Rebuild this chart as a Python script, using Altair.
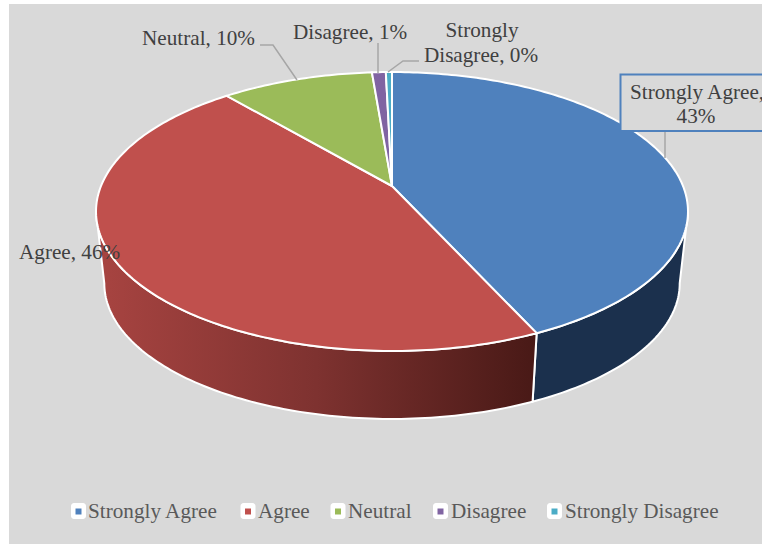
import numpy as np
import pandas as pd
import altair as alt

# Survey responses
categories = ["Strongly Agree", "Agree", "Neutral", "Disagree", "Strongly Disagree"]
shares = [43.2, 45.6, 9.9, 0.9, 0.4]
slice_colors = ["#4F81BD", "#C0504D", "#9BBB59", "#8064A2", "#4BACC6"]
label_lines = [
    ["Strongly Agree,", "43%"],
    ["Agree, 46%"],
    ["Neutral, 10%"],
    ["Disagree, 1%"],
    ["Strongly", "Disagree, 0%"],
]

W, H = 762, 544
PAGE_GRAY = "#D9D9D9"
LABEL_INK = "#404040"
LEGEND_INK = "#595959"
LEADER = "#A6A6A6"
SERIF = "Liberation Serif"
TEXT_SIZE = 21.2

# Perspective of the tilted disc
CX, CY = 392.0, 186.0
A, B, K = 291.0, 134.8, 0.1828
DROP_SCALE, VANISH_Y = 0.972, 2780.0
# Angles where the rim turns from the visible front to the hidden back
RIM_RIGHT, RIM_LEFT = np.radians(100.5), np.radians(259.5)

x_scale = alt.Scale(domain=[0, W], nice=False, zero=False)
y_scale = alt.Scale(domain=[H, 0], nice=False, zero=False)


def top_xy(theta):
    u, v = np.sin(theta), np.cos(theta)
    d = 1 + K * v
    return CX + A * u / d, CY - B * v / d


def bottom_xy(theta):
    x, y = top_xy(theta)
    return CX + (x - CX) * DROP_SCALE, VANISH_Y + (y - VANISH_Y) * DROP_SCALE


def outline(xs, ys):
    return pd.DataFrame({"x": xs, "y": ys, "i": np.arange(len(xs))})


def poly(df, **mark):
    return (
        alt.Chart(df)
        .mark_line(interpolate="linear-closed", **mark)
        .encode(
            x=alt.X("x:Q", scale=x_scale, axis=None),
            y=alt.Y("y:Q", scale=y_scale, axis=None),
            order="i:Q",
        )
    )


def path(points, color=LEADER, width=1.5):
    df = pd.DataFrame(points, columns=["x", "y"])
    df["i"] = range(len(df))
    return (
        alt.Chart(df)
        .mark_line(color=color, strokeWidth=width)
        .encode(
            x=alt.X("x:Q", scale=x_scale, axis=None),
            y=alt.Y("y:Q", scale=y_scale, axis=None),
            order="i:Q",
        )
    )


def text(s, x, y, color=LABEL_INK, size=TEXT_SIZE, align="center"):
    df = pd.DataFrame({"x": [x], "y": [y], "t": [s]})
    return (
        alt.Chart(df)
        .mark_text(font=SERIF, fontSize=size, color=color, align=align, baseline="alphabetic")
        .encode(
            x=alt.X("x:Q", scale=x_scale, axis=None),
            y=alt.Y("y:Q", scale=y_scale, axis=None),
            text="t:N",
        )
    )


def box(x0, y0, x1, y1, **mark):
    df = pd.DataFrame({"x": [x0], "x2": [x1], "y": [y0], "y2": [y1]})
    return (
        alt.Chart(df)
        .mark_rect(**mark)
        .encode(
            x=alt.X("x:Q", scale=x_scale, axis=None),
            x2="x2:Q",
            y=alt.Y("y:Q", scale=y_scale, axis=None),
            y2="y2:Q",
        )
    )


edges = np.cumsum([0] + shares) / sum(shares) * 2 * np.pi
spans = list(zip(edges[:-1], edges[1:]))


def arc(t0, t1):
    return np.linspace(t0, t1, max(3, int(np.degrees(t1 - t0)) + 2))


layers = [box(9, 4, W, H, color=PAGE_GRAY)]

# Side walls: only the front of the two large slices can be seen
wall_fills = [
    "#1B304D",
    alt.LinearGradient(
        gradient="linear",
        x1=0, x2=1, y1=0, y2=0,
        stops=[
            alt.GradientStop(color="#A84441", offset=0),
            alt.GradientStop(color="#7E3230", offset=0.5),
            alt.GradientStop(color="#481916", offset=1),
        ],
    ),
]
wall_spans = [
    (RIM_RIGHT, spans[0][1]),
    (spans[1][0], RIM_LEFT),
]
for (t0, t1), fill in zip(wall_spans, wall_fills):
    th = arc(t0, t1)
    xa, ya = top_xy(th)
    xb, yb = bottom_xy(th[::-1])
    layers.append(
        poly(outline(np.r_[xa, xb], np.r_[ya, yb]), fill=fill, stroke="white", strokeWidth=2)
    )

# Top faces
for (t0, t1), color in zip(spans, slice_colors):
    xa, ya = top_xy(arc(t0, t1))
    layers.append(
        poly(outline(np.r_[CX, xa], np.r_[CY, ya]), fill=color, stroke="white", strokeWidth=2)
    )

# Leader lines
layers += [
    path([(665, 131), (665, 158)]),
    path([(260, 45), (273, 45), (297, 80)]),
    path([(378, 43), (378, 73)]),
    path([(419, 61), (403, 61), (388, 72)]),
]

# Boxed label of the largest slice
layers.append(box(620.5, 74.5, 790, 131, fill=PAGE_GRAY, stroke="#4F81BD", strokeWidth=2, clip=True))

layers += [
    text(label_lines[0][0], 630, 99, align="left"),
    text(label_lines[0][1], 696, 123),
    text(label_lines[1][0], 19, 259, align="left"),
    text(label_lines[2][0], 142, 45, align="left"),
    text(label_lines[3][0], 293, 39, align="left"),
    text(label_lines[4][0], 482, 37),
    text(label_lines[4][1], 481, 62),
]

# Legend row
swatch_x = [78.5, 248, 338, 440.5, 554.5]
legend_x = [88, 258, 348, 451, 565]
for name, color, sx, lx in zip(categories, slice_colors, swatch_x, legend_x):
    layers.append(box(sx - 7.5, 503, sx + 7.5, 519, color="white", cornerRadius=3))
    layers.append(box(sx - 3, 508.5, sx + 3, 514.5, color=color))
    layers.append(text(name, lx, 518, color=LEGEND_INK, align="left"))

chart = (
    alt.layer(*layers)
    .properties(
        width=W,
        height=H,
        padding=0,
        autosize=alt.AutoSizeParams(type="none"),
        background="white",
    )
    .configure_view(stroke=None)
)

chart.save("out.html", embed_options={"renderer": "svg", "actions": False})
